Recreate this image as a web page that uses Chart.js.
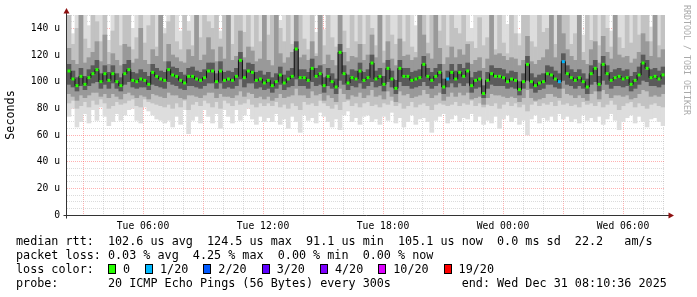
<!DOCTYPE html>
<html>
<head>
<meta charset="utf-8">
<title>SmokePing median RTT</title>
<script src="https://cdn.jsdelivr.net/npm/chart.js"></script>
<style>
  body { margin: 0; background: #fff; }
  #wrap { position: relative; width: 697px; height: 297px; font-family: 'DejaVu Sans Mono', monospace; }
  #chart { position: absolute; left: 0; top: 0; }
  #legend { position: absolute; left: 16px; top: 234px; font-size: 11.75px; line-height: 14px; white-space: pre; color: #000; }
  .box { display: inline-block; width: 6px; height: 8px; border: 1px solid #000; vertical-align: -1px; margin-right: 7px; }
  .item { margin-right: 15px; }
  #mark { position: absolute; left: 682px; top: 5px; writing-mode: vertical-rl; font-size: 8.3px; line-height: 10px; color: #aaa; white-space: pre; }
</style>
</head>
<body>
<div id="wrap">
  <canvas id="chart" width="697" height="297"></canvas>
  <div id="mark">RRDTOOL / TOBI OETIKER</div>
  <div id="legend"><div>median rtt:  102.6 us avg  124.5 us max  91.1 us min  105.1 us now  0.0 ms sd  22.2   am/s</div><div>packet loss: 0.03 % avg  4.25 % max  0.00 % min  0.00 % now</div><div id="lossRow">loss color:  </div><div>probe:       20 ICMP Echo Pings (56 Bytes) every 300s          end: Wed Dec 31 08:10:36 2025</div></div>
</div>
<script>
  // time axis in hours from Tue 00:00, one column per 12 minutes
  const START_H = 2.2;
  const STEP_H = 29.9 / 150;

  const X_TICK_HOURS = [6, 12, 18, 24, 30];
  const X_TICK_LABELS = ['Tue 06:00', 'Tue 12:00', 'Tue 18:00', 'Wed 00:00', 'Wed 06:00'];
  const Y_TICK_VALUES = [0, 20, 40, 60, 80, 100, 120, 140];
  const Y_TICK_LABELS = ['0', '20 u', '40 u', '60 u', '80 u', '100 u', '120 u', '140 u'];

  const LOSS_LABELS = ['0', '1/20', '2/20', '3/20', '4/20', '10/20', '19/20'];
  const LOSS_COLORS = ['#26ff00', '#00b8ff', '#0059ff', '#5e00ff', '#7e00ff', '#dd00ff', '#ff0000'];

  // median rtt (us)
  const MEDIAN = [
    108,102,97,104,98,103,106,109,100,106,101,106,100,97,106,109,101,100,102,101,98,107,104,102,101,
    109,105,104,101,99,104,104,102,101,103,108,108,100,108,101,102,101,104,116,103,108,107,101,102,99,
    101,97,100,105,99,102,104,124.5,103,103,101,110,104,106,97,104,100,96,122,106,99,103,102,108,101,
    103,114,102,104,98,110,102,95,110,104,104,101,102,103,113,104,101,104,107,96,102,107,102,107,104,
    108,97,101,102,91.1,101,106,104,104,103,100,102,101,94,100,113,100,97,99,100,106,105,102,100,115,
    106,103,101,103,100,96,106,110,98,113,106,101,103,104,102,103,98,101,105,114,110,103,104,102,105.1
  ];

  // loss level per column (index into LOSS_COLORS)
  const LOSS = [
    0,0,0,0,0,0,0,0,0,0,0,0,0,0,0,0,0,0,0,0,0,0,0,0,0,
    0,0,0,0,0,0,0,0,0,0,0,0,0,0,0,0,0,0,0,0,0,0,0,0,0,
    0,0,0,0,0,0,0,0,0,0,0,0,0,0,0,0,0,0,0,0,0,0,0,0,0,
    0,0,0,0,0,0,0,0,0,0,0,0,0,0,0,0,0,0,0,0,1,0,0,0,0,
    0,0,0,0,0,0,0,0,0,0,0,0,0,0,0,0,0,0,0,0,0,0,0,1,1,
    0,0,0,0,0,0,0,0,0,0,0,0,0,0,0,0,0,0,0,0,0,0,0,0,0
  ];

  // smoke: outer band (min .. max ping)
  const LO1 = [
    74,80,66,70,76,69,79,71,81,74,67,70,76,71,75,79,80,71,69,81,78,75,72,71,69,
    71,66,74,68,79,61,71,74,69,79,74,69,76,65,79,74,69,79,71,75,80,72,68,74,70,
    73,70,76,68,72,65,74,70,62,75,71,73,69,77,74,70,66,72,64,75,78,70,73,68,74,
    75,70,72,68,74,71,77,69,73,66,70,75,68,72,73,70,62,71,74,76,69,72,75,70,73,
    72,76,70,74,68,71,69,74,65,72,75,70,73,68,71,60,72,75,69,73,71,74,70,76,72,
    74,70,72,69,75,71,73,70,74,68,72,76,71,64,70,73,75,69,74,70,66,72,73,70,67
  ];
  const HI1 = [
    155,136,155,155,155,142,155,155,155,155,131,155,155,155,155,155,140,155,155,155,155,155,155,155,140,
    155,155,155,138,155,145,155,155,155,155,155,155,155,138,155,155,155,155,155,155,155,155,155,155,155,
    155,155,155,146,155,155,155,155,155,155,155,155,137,155,139,155,155,155,155,155,155,155,155,155,155,
    155,155,155,155,155,155,155,155,155,155,155,155,142,155,155,155,155,155,155,155,155,155,155,155,155,
    155,140,155,155,155,155,155,155,155,155,143,155,155,136,155,155,155,155,155,155,155,155,155,155,155,
    155,155,155,155,135,155,155,155,155,155,155,138,155,155,155,155,155,155,155,155,155,141,155,155,155
  ];
  const LO2 = [
    84,86,80,82,85,81,86,83,87,84,80,82,85,83,84,86,87,82,81,87,85,84,83,82,81,
    83,80,84,81,86,79,83,85,82,86,84,81,85,80,86,84,82,86,83,84,87,83,81,84,82,
    84,82,85,81,83,80,84,82,79,85,83,84,82,86,84,82,80,83,79,85,86,82,84,81,84,
    85,82,83,81,84,83,86,82,84,80,82,85,81,83,84,82,79,83,84,83,82,83,85,82,84,
    83,86,82,84,81,83,82,84,80,83,85,82,84,81,83,78,83,85,82,84,83,85,82,86,83,
    84,82,83,81,85,83,84,82,85,81,83,86,83,79,82,84,85,81,84,82,80,83,84,82,81
  ];
  const HI2 = [
    155,128,140,155,132,125,155,145,130,155,122,138,155,127,150,155,124,133,155,129,142,155,126,155,136,
    145,155,130,124,155,138,127,155,133,155,145,140,155,132,155,155,128,155,155,137,150,126,155,130,155,
    135,155,155,140,130,155,128,155,155,132,124,155,121,155,127,155,133,126,155,138,125,155,130,155,128,
    155,140,127,155,123,155,135,128,155,130,155,126,122,155,155,129,155,155,138,155,127,155,140,136,155,
    130,130,125,148,127,133,155,124,155,129,121,155,136,127,155,155,130,126,155,137,140,155,128,155,155,
    155,128,136,155,122,155,131,155,127,155,140,126,155,133,125,155,129,155,135,155,155,130,155,127,150
  ];
  const LO3 = [
    91,89,86,90,88,90,92,92,89,91,88,91,89,87,91,92,90,88,90,89,87,91,90,89,88,
    92,90,90,88,87,90,90,89,88,90,92,92,88,91,89,89,88,90,93,89,92,91,88,89,87,
    89,86,88,91,88,89,90,95,90,90,88,93,90,91,86,90,88,85,95,91,87,90,89,92,88,
    90,94,89,90,87,93,89,85,93,90,91,88,89,90,94,91,88,90,92,86,89,92,89,92,90,
    92,87,88,89,83,88,91,90,90,89,88,89,88,85,88,94,88,86,87,88,91,91,89,88,95,
    91,90,88,90,88,86,91,93,87,94,91,88,90,90,89,90,87,88,91,94,93,89,90,89,91
  ];
  const HI3 = [
    125,116,113,155,114,118,122,130,115,135,113,121,116,112,128,126,114,117,140,116,113,124,119,155,115,
    128,120,118,115,114,124,119,155,116,120,133,124,115,126,117,155,116,119,138,118,126,123,115,117,155,
    116,112,155,121,114,118,122,155,118,120,116,130,119,155,113,120,116,112,155,122,115,119,118,128,116,
    120,135,118,155,114,130,117,112,132,119,120,116,118,155,135,121,117,155,125,113,118,126,118,124,120,
    128,113,116,118,110,117,155,120,121,119,116,118,117,112,116,134,115,113,116,118,124,155,118,155,136,
    124,119,116,155,116,113,124,130,114,134,122,117,155,120,118,119,114,117,122,136,130,119,155,118,124
  ];
  const LO4 = [
    98,96,93,97,94,97,99,100,95,98,95,99,95,93,98,100,96,95,96,96,94,98,97,96,95,
    100,98,97,95,94,97,97,96,95,97,99,99,95,99,95,96,95,97,102,96,99,99,95,96,94,
    95,92,95,98,94,96,97,102,97,97,95,100,97,98,92,97,95,91,101,98,94,97,96,99,95,
    97,100,96,97,93,100,96,91,100,97,97,95,96,97,100,97,95,97,99,91,96,99,96,99,97,
    99,92,95,96,88,95,98,97,97,97,95,96,95,90,95,101,95,92,94,95,98,98,96,95,101,
    98,97,95,97,95,91,98,100,93,101,98,95,97,97,96,97,93,95,98,101,100,97,97,96,98
  ];
  const HI4 = [
    113,108,103,110,104,109,112,116,106,112,107,112,106,103,113,116,107,106,109,107,104,113,110,108,107,
    115,111,110,107,105,110,111,108,107,109,114,114,106,115,107,108,107,110,122,109,114,113,107,108,105,
    107,103,106,111,105,108,110,130,109,109,107,117,110,112,103,110,106,102,128,112,105,109,108,114,107,
    109,120,108,110,104,116,108,101,116,110,110,107,108,109,119,110,107,110,113,102,108,113,108,113,110,
    114,103,107,108,97,107,112,110,110,109,106,108,107,100,106,119,106,103,105,106,112,111,108,106,121,
    112,109,107,109,106,102,112,116,104,119,112,107,109,110,108,109,104,107,111,120,116,109,110,108,111
  ];

  const times = MEDIAN.map((_, i) => START_H + (i + 0.5) * STEP_H);
  const band = (lo, hi) => lo.map((v, i) => ({ x: times[i], y: [v, hi[i]] }));
  const barStyle = { grouped: false, barPercentage: 1, categoryPercentage: 1, borderWidth: 0 };

  const MAJOR = 'rgba(255, 70, 70, 0.42)';
  const MINOR = 'rgba(160, 160, 160, 0.38)';

  // legend boxes for loss colours
  const lossRow = document.getElementById('lossRow');
  LOSS_LABELS.forEach((lab, i) => {
    const b = document.createElement('span');
    b.className = 'box';
    b.style.background = LOSS_COLORS[i];
    const t = document.createElement('span');
    t.className = 'item';
    t.textContent = lab;
    lossRow.appendChild(b);
    lossRow.appendChild(t);
  });

  // axis lines with rrdtool style arrows
  const axesPlugin = {
    id: 'rrdAxes',
    afterDraw(chart) {
      const { ctx, chartArea: a } = chart;
      const x0 = a.left - 0.5, y0 = a.bottom + 0.5;
      ctx.save();
      ctx.strokeStyle = '#333';
      ctx.lineWidth = 1;
      ctx.beginPath();
      ctx.moveTo(x0 - 3, y0); ctx.lineTo(a.right + 4, y0);
      ctx.moveTo(x0, y0 + 3); ctx.lineTo(x0, a.top - 3);
      ctx.stroke();
      ctx.fillStyle = '#8e1010';
      ctx.beginPath();
      ctx.moveTo(x0, a.top - 7); ctx.lineTo(x0 - 3, a.top - 1.5); ctx.lineTo(x0 + 3, a.top - 1.5);
      ctx.closePath(); ctx.fill();
      ctx.beginPath();
      ctx.moveTo(a.right + 9, y0); ctx.lineTo(a.right + 3.5, y0 - 3); ctx.lineTo(a.right + 3.5, y0 + 3);
      ctx.closePath(); ctx.fill();
      ctx.restore();
    }
  };

  // grid colour per tick: red every 3 h / 20 us, grey otherwise
  const gridColor = step => c => {
    const v = c.tick ? c.tick.value : (c.scale && c.scale.ticks[c.index] ? c.scale.ticks[c.index].value : 1);
    return Math.abs(v % step) < 1e-6 ? MAJOR : MINOR;
  };

  Chart.defaults.font.family = "'DejaVu Sans Mono', monospace";
  Chart.defaults.color = '#000';

  new Chart(document.getElementById('chart'), {
    type: 'bar',
    data: {
      datasets: [
        {
          type: 'line',
          data: MEDIAN.map((v, i) => ({ x: times[i], y: v })),
          stepped: 'middle',
          borderColor: '#111',
          borderWidth: 1,
          pointStyle: 'rect',
          pointRadius: 2.1,
          pointBorderWidth: 0,
          pointBackgroundColor: LOSS.map(l => LOSS_COLORS[l])
        },
        Object.assign({ data: band(LO4, HI4), backgroundColor: '#5a5a5a' }, barStyle),
        Object.assign({ data: band(LO3, HI3), backgroundColor: '#999999' }, barStyle),
        Object.assign({ data: band(LO2, HI2), backgroundColor: '#c2c2c2' }, barStyle),
        Object.assign({ data: band(LO1, HI1), backgroundColor: '#dddddd' }, barStyle)
      ]
    },
    options: {
      responsive: false,
      animation: false,
      events: [],
      layout: { padding: { left: 0, top: 15, right: 32, bottom: 0 } },
      plugins: { legend: { display: false }, tooltip: { enabled: false } },
      scales: {
        x: {
          type: 'linear',
          min: START_H,
          max: START_H + 150 * STEP_H,
          offset: false,
          z: 1,
          afterFit: s => { s.height = 82; },
          grid: { offset: false, drawTicks: false, color: gridColor(3) },
          border: { display: false, dash: [1, 1] },
          ticks: {
            stepSize: 1, includeBounds: false, autoSkip: false, maxRotation: 0, minRotation: 0,
            padding: 6, font: { size: 9.7 },
            callback: v => { const k = X_TICK_HOURS.indexOf(v); return k < 0 ? '' : X_TICK_LABELS[k]; }
          }
        },
        y: {
          min: 0,
          max: 150,
          z: 1,
          afterFit: s => { s.width = 67; },
          grid: { drawTicks: false, color: gridColor(20) },
          border: { display: false, dash: [1, 1] },
          ticks: {
            stepSize: 5, autoSkip: false, padding: 7, font: { size: 9.7 },
            callback: v => { const k = Y_TICK_VALUES.indexOf(v); return k < 0 ? '' : Y_TICK_LABELS[k]; }
          },
          title: { display: true, text: 'Seconds', font: { size: 11.75 }, padding: { top: 4, bottom: 0 } }
        }
      }
    },
    plugins: [axesPlugin]
  });
</script>
</body>
</html>
